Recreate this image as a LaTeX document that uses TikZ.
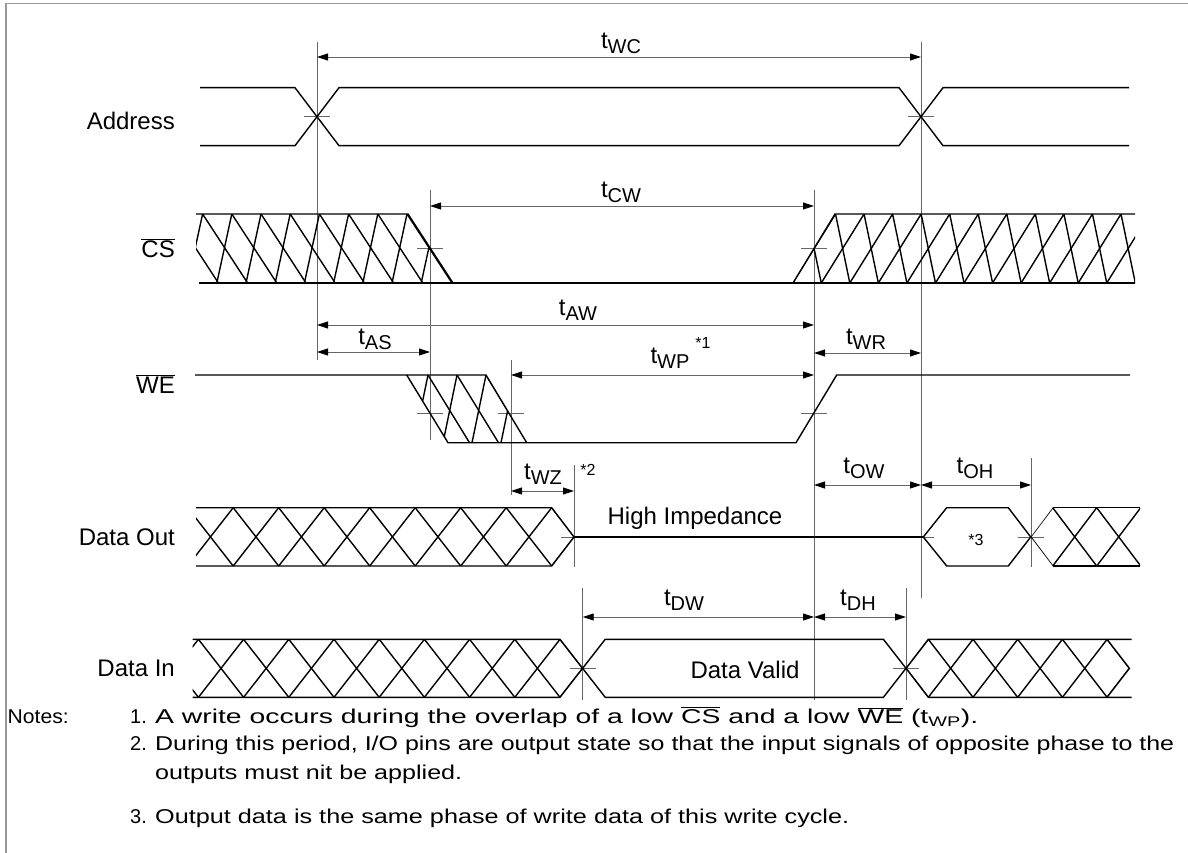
\documentclass[tikz,border=0pt]{standalone}
\usepackage{fontspec}
\usepackage{graphicx}
\setmainfont{Liberation Sans}
\usetikzlibrary{arrows.meta}
\newcommand\tsub[1]{t\raisebox{-5pt}{\fontsize{20}{20}\selectfont #1}}
\newcommand\ovl[1]{$\overline{\hbox{#1}}$}
\begin{document}
\begin{tikzpicture}[x=1pt,y=-1pt,
  sig/.style={line width=1.4pt,black},
  guide/.style={line width=0.9pt,black!60},
  tickmark/.style={line width=0.9pt,black!60},
  dim/.style={line width=0.9pt,black!60,{Triangle[length=11pt,width=7pt,fill=black,color=black]}-{Triangle[length=11pt,width=7pt,fill=black,color=black]}},
  lbl/.style={font=\fontsize{24}{24}\selectfont,inner sep=0pt},
  sup/.style={font=\fontsize{16}{16}\selectfont,inner sep=0pt},
  note/.style={font=\fontsize{20}{20}\selectfont,inner sep=0pt,anchor=base west}]
\useasboundingbox (0,0) rectangle (1188,853);
\draw[line width=1.2pt,black!40] (6,853) -- (6,3.5) -- (1188,3.5);

% ---------- signal names
\node[lbl,anchor=east] (nAddr) at (175,121) {Address};
\node[lbl,anchor=east] (nCS) at (175,248) {\ovl{CS}};
\node[lbl,anchor=east] (nWE) at (175,384) {\ovl{WE}};
\node[lbl,anchor=east] (nDO) at (175,537) {Data Out};
\node[lbl,anchor=east] (nDI) at (175,668) {Data In};

% ---------- guide lines
\draw[guide] (317,42) -- (317,360);
\draw[guide] (921,42) -- (921,598);
\draw[guide] (430,190) -- (430,440);
\draw[guide] (814,190) -- (814,700);
\draw[guide] (511,360) -- (511,495);
\draw[guide] (574,465) -- (574,567);
\draw[guide] (1031,458) -- (1031,567);
\draw[guide] (582.7,588) -- (582.7,700);
\draw[guide] (906,588) -- (906,700);

% ---------- ticks
\foreach \x/\y in {317/116.7,921/116.7,430/248,814/248,430/413,511/413,814/413,574/537,921/537,1031/537,582.7/668.3,906/668.3}
  \draw[tickmark] (\x-13,\y) -- (\x+13,\y);

% ---------- Address
\draw[sig] (200,87.7) -- (295,87.7) -- (339,145.7) -- (899,145.7) -- (943,87.7) -- (1129,87.7);
\draw[sig] (200,145.7) -- (295,145.7) -- (339,87.7) -- (899,87.7) -- (943,145.7) -- (1129,145.7);

% ---------- CS
\begin{scope}
\clip (196,214) -- (408,214) -- (453,283) -- (196,283) -- cycle;
\foreach \m in {-1,...,9} {
  \pgfmathsetmacro\T{407-29.2*\m}
  \draw[sig] (\T,214) -- (\T+45,283);
  \draw[sig] (\T-15,283) -- (\T,214);
}
\end{scope}
\begin{scope}
\clip (793,283) -- (835,214) -- (1135,214) -- (1135,283) -- cycle;
\foreach \k in {-1,...,13} {
  \pgfmathsetmacro\B{792.7+28.55*\k}
  \draw[sig] (\B,283) -- (\B+42.8,214) -- (\B+57.1,283);
}
\end{scope}
\draw[sig] (196,214) -- (408,214) -- (453,283);
\draw[sig] (199,283) -- (1135,283);
\draw[sig] (793,283) -- (835,214) -- (1135,214);

% ---------- WE
\begin{scope}
\clip (406.7,375) -- (486,375) -- (526.7,442.7) -- (448,442.7) -- cycle;
\foreach \m in {-1,...,3} {
  \pgfmathsetmacro\T{486-29*\m}
  \draw[sig] (\T,375) -- (\T+41.5,442.7);
  \draw[sig] (\T-14,442.7) -- (\T,375);
}
\end{scope}
\draw[sig] (195,375) -- (486,375) -- (526.7,442.7);
\draw[sig] (406.7,375) -- (448,442.7) -- (796,442.7) -- (836.7,375) -- (1130,375);

% ---------- Data Out
\begin{scope}
\clip (196,507.7) -- (551.7,507.7) -- (574.5,537) -- (551.7,566) -- (196,566) -- cycle;
\foreach \m in {0,...,8} {
  \pgfmathsetmacro\X{551.7-45.5*\m}
  \draw[sig] (\X,507.7) -- (\X+45.5,566);
  \draw[sig] (\X,566) -- (\X+45.5,507.7);
}
\end{scope}
\draw[sig] (196,507.7) -- (551.7,507.7) -- (574,537) -- (551.7,566) -- (196,566);
\draw[sig] (574,537) -- (923.3,537);
\draw[sig] (923.3,537) -- (946.7,507.7) -- (1008.3,507.7) -- (1030.7,537) -- (1008.3,566) -- (946.7,566) -- cycle;
\begin{scope}
\clip (1030.7,537) -- (1052.7,507.7) -- (1140,507.7) -- (1140,566) -- (1052.7,566) -- cycle;
\foreach \k in {0,...,3} {
  \pgfmathsetmacro\X{1008.7+44*\k}
  \draw[sig] (\X,507.7) -- (\X+44,566);
  \draw[sig] (\X,566) -- (\X+44,507.7);
}
\end{scope}
\draw[sig] (1052.7,507.7) -- (1140,507.7);
\draw[sig] (1052.7,566) -- (1140,566);

% ---------- Data In
\begin{scope}
\clip (192.7,639.3) -- (560,639.3) -- (582.6,668.3) -- (560,697.3) -- (192.7,697.3) -- cycle;
\foreach \m in {0,...,9} {
  \pgfmathsetmacro\X{560-45.2*\m}
  \draw[sig] (\X,639.3) -- (\X+45.2,697.3);
  \draw[sig] (\X,697.3) -- (\X+45.2,639.3);
}
\end{scope}
\draw[sig] (192.7,639.3) -- (560,639.3) -- (582.6,668.3) -- (560,697.3) -- (192.7,697.3);
\draw[sig] (582.6,668.3) -- (605.2,639.3) -- (883.4,639.3) -- (906,668.3) -- (883.4,697.3) -- (605.2,697.3) -- cycle;
\begin{scope}
\clip (906,668.3) -- (928.3,639.3) -- (1107,639.3) -- (1129.4,668.3) -- (1107,697.3) -- (928.3,697.3) -- cycle;
\foreach \k in {0,...,5} {
  \pgfmathsetmacro\X{883.6+44.7*\k}
  \draw[sig] (\X,639.3) -- (\X+44.7,697.3);
  \draw[sig] (\X,697.3) -- (\X+44.7,639.3);
}
\end{scope}
\draw[sig] (906,668.3) -- (928.3,639.3) -- (1131.5,639.3);
\draw[sig] (906,668.3) -- (928.3,697.3) -- (1131.5,697.3);
\draw[sig] (1107,639.3) -- (1129.4,668.3) -- (1107,697.3);

% ---------- dimension arrows
\draw[dim] (317,57) -- (921,57);
\node[lbl] (lWC) at (621,43) {\tsub{WC}};
\draw[dim] (430,206) -- (814,206);
\node[lbl] (lCW) at (621,192) {\tsub{CW}};
\draw[dim] (317,325) -- (814,325);
\node[lbl] (lAW) at (578,310) {\tsub{AW}};
\draw[dim] (317,352) -- (430,352);
\node[lbl] (lAS) at (375,339) {\tsub{AS}};
\draw[dim] (511,375) -- (814,375);
\node[lbl] (lWP) at (670,358) {\tsub{WP}};
\node[sup] (s1) at (703,343) {*1};
\draw[dim] (814,353) -- (921,353);
\node[lbl] (lWR) at (866,339) {\tsub{WR}};
\draw[dim] (511,491) -- (574,491);
\node[lbl] (lWZ) at (543,474) {\tsub{WZ}};
\node[sup] (s2) at (588,470) {*2};
\draw[dim] (814,485) -- (921,485);
\node[lbl] (lOW) at (864,468) {\tsub{OW}};
\draw[dim] (921,485) -- (1031,485);
\node[lbl] (lOH) at (975,468) {\tsub{OH}};
\draw[dim] (582.7,617) -- (814,617);
\node[lbl] (lDW) at (684,600) {\tsub{DW}};
\draw[dim] (814,617) -- (906,617);
\node[lbl] (lDH) at (858,600) {\tsub{DH}};

\node[lbl] (hiz) at (695,518) {High Impedance};
\node[sup] (s3) at (976,540) {*3};
\node[lbl] (dv) at (745,670) {Data Valid};

% ---------- notes
\node[note] (notes) at (7.5,723) {\resizebox{61pt}{\height}{Notes:}};
\node[note] (n1) at (130,723) {1.};
\node[note] (t1) at (155,723) {\resizebox{823pt}{\height}{A write occurs during the overlap of a low \ovl{CS} and a low \ovl{WE} (t\textsubscript{WP}).}};
\node[note] (n2) at (130,750) {2.};
\node[note] (t2) at (155,750) {\resizebox{1019pt}{\height}{During this period, I/O pins are output state so that the input signals of opposite phase to the}};
\node[note] (t2b) at (155,779) {\resizebox{307pt}{\height}{outputs must nit be applied.}};
\node[note] (n3) at (130,823) {3.};
\node[note] (t3) at (155,823) {\resizebox{694pt}{\height}{Output data is the same phase of write data of this write cycle.}};
\end{tikzpicture}
\end{document}
